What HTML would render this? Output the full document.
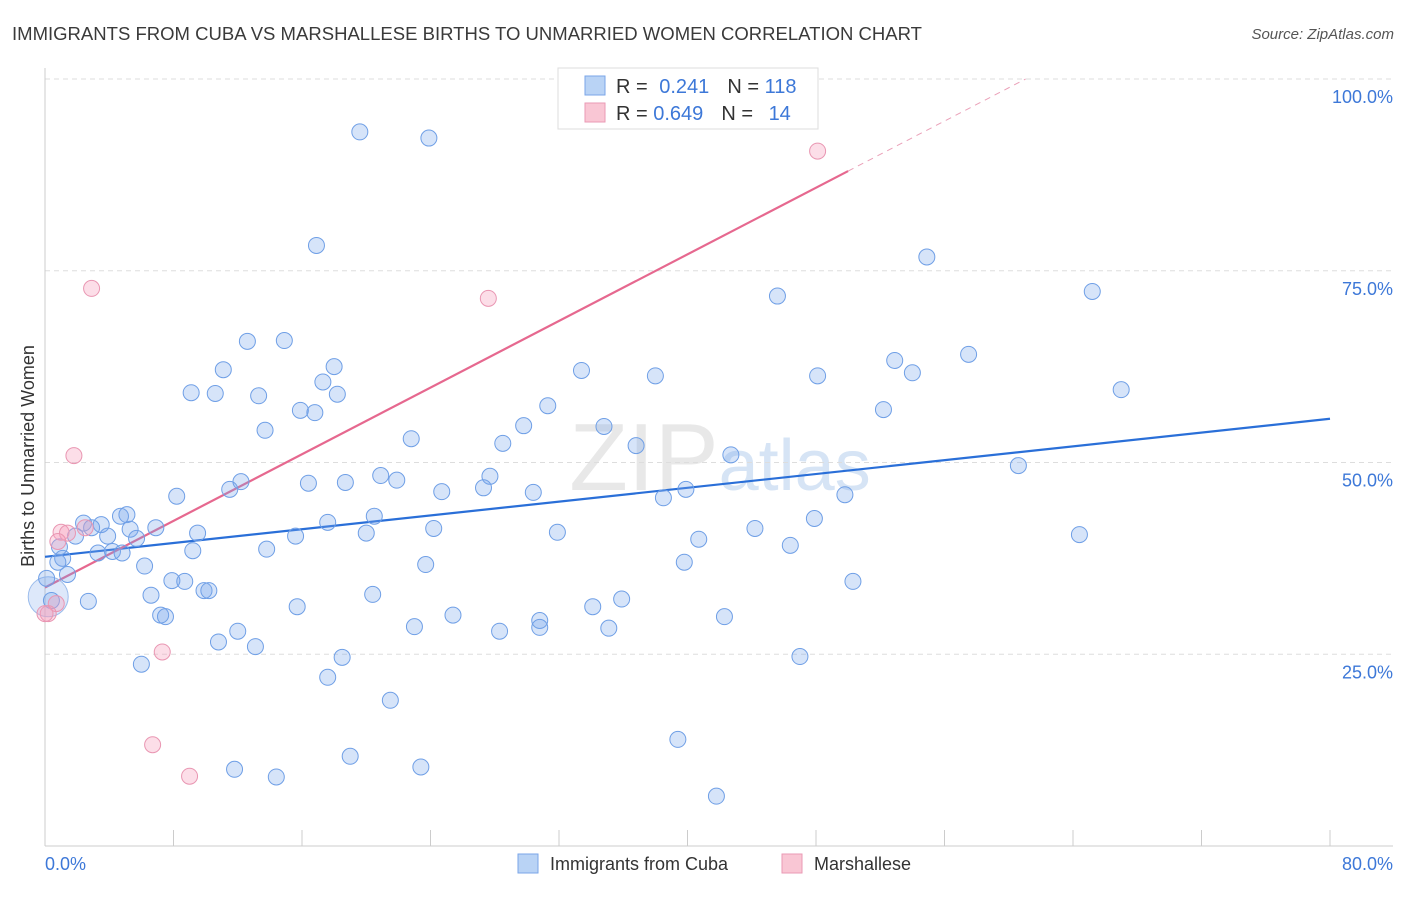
<!DOCTYPE html>
<html><head><meta charset="utf-8"><style>
body{margin:0;background:#fff;font-family:"Liberation Sans",sans-serif;}
svg text{font-family:"Liberation Sans",sans-serif;}
</style></head><body>
<svg id="chart" width="1406" height="892" xmlns="http://www.w3.org/2000/svg">
<text x="12" y="40" font-size="18" fill="#3a3a3a" textLength="910" lengthAdjust="spacingAndGlyphs">IMMIGRANTS FROM CUBA VS MARSHALLESE BIRTHS TO UNMARRIED WOMEN CORRELATION CHART</text>
<text x="1394" y="39" font-size="15" fill="#555" text-anchor="end" font-style="italic">Source: ZipAtlas.com</text>
<text x="720" y="490" font-size="96" fill="#e8e8e8" text-anchor="middle" font-family="Liberation Serif">ZIP<tspan fill="#d6e4f5" font-family="Liberation Sans" font-size="72">atlas</tspan></text>
<g id="grid"></g>
<g id="axes"></g>
<g id="trend"></g>
<g id="pts"></g>
<text transform="translate(34,456) rotate(-90)" font-size="18" fill="#333" text-anchor="middle">Births to Unmarried Women</text>
<text x="45" y="870" font-size="18" fill="#3d78d8">0.0%</text>
<text x="1393" y="870" font-size="18" fill="#3d78d8" text-anchor="end">80.0%</text>
<g>
<rect x="558" y="68" width="260" height="61" fill="#fff" stroke="#ddd"/>
<rect x="585" y="76" width="20" height="19" fill="#b9d3f5" stroke="#7aa6e8"/>
<rect x="585" y="103" width="20" height="19" fill="#f9c6d4" stroke="#ea9ab4"/>
<text x="616" y="93" font-size="20" fill="#333">R = <tspan fill="#3d78d8" dx="6">0.241</tspan><tspan dx="18" fill="#333">N = </tspan><tspan fill="#3d78d8">118</tspan></text>
<text x="616" y="120" font-size="20" fill="#333">R = <tspan fill="#3d78d8">0.649</tspan><tspan dx="18" fill="#333">N = </tspan><tspan fill="#3d78d8" dx="10">14</tspan></text>
</g>
<g>
<rect x="518" y="854" width="20" height="19" fill="#b9d3f5" stroke="#7aa6e8"/>
<text x="550" y="870" font-size="18" fill="#333">Immigrants from Cuba</text>
<rect x="782" y="854" width="20" height="19" fill="#f9c6d4" stroke="#ea9ab4"/>
<text x="814" y="870" font-size="18" fill="#333">Marshallese</text>
</g>
</svg>
<script>
const yTicks=[25,50,75,100];
const yTickLabels=["25.0%","50.0%","75.0%","100.0%"];
const xTicks=[0,8,16,24,32,40,48,56,64,72,80];
const cubaX=[19.6,23.9,16.9,54.9,45.6,65.2,12.6,14.9,11.1,18.0,17.3,9.1,10.6,13.3,18.2,15.9,16.8,13.7,33.4,38.0,48.1,52.9,54.0,57.5,67.0,52.2,31.3,29.8,22.8,34.8,36.8,28.5,42.7,60.6,12.2,11.5,16.4,18.7,20.9,21.9,27.7,27.3,24.7,30.4,38.5,39.9,49.8,8.2,4.7,5.1,6.9,5.3,3.5,2.4,2.9,1.9,3.9,5.7,1.1,0.8,3.3,4.2,4.8,1.4,0.1,0.4,2.7,9.5,13.8,15.6,17.6,20.0,20.5,24.2,31.9,40.7,44.2,47.9,64.4,46.4,9.2,6.2,23.7,39.8,50.3,7.9,8.7,9.9,10.2,6.6,7.2,7.5,15.7,20.4,34.1,35.9,25.4,30.8,30.8,42.3,23.0,28.3,35.1,12.0,10.8,13.1,6.0,18.5,47.0,17.6,21.5,39.4,19.0,11.8,23.4,14.4,41.8,0.9];
const cubaY=[93.1,92.3,78.3,76.8,71.7,72.3,65.8,65.9,62.1,62.5,60.5,59.1,59.0,58.7,58.9,56.8,56.5,54.2,62.0,61.3,61.3,63.3,61.7,64.1,59.5,56.9,57.4,54.8,53.1,54.7,52.2,52.5,51.0,49.6,47.5,46.5,47.3,47.4,48.3,47.7,48.2,46.7,46.2,46.1,45.4,46.5,45.8,45.6,43.0,43.2,41.5,41.3,41.9,42.1,41.5,40.4,40.4,40.1,37.5,37.0,38.2,38.4,38.2,35.4,34.9,32.0,31.9,40.8,38.7,40.4,42.2,40.8,43.0,41.4,40.9,40.0,41.4,42.7,40.6,39.2,38.5,36.5,36.7,37.0,34.5,34.6,34.5,33.3,33.3,32.7,30.1,29.9,31.2,32.8,31.2,32.2,30.1,29.4,28.5,29.9,28.6,28.0,28.4,28.0,26.6,26.0,23.7,24.6,24.7,22.0,19.0,13.9,11.7,10.0,10.3,9.0,6.5,39.0];
const marshX=[2.9,27.6,48.1,1.8,1.0,1.4,0.8,2.5,0.7,0.2,7.3,6.7,9.0,0.0];
const marshY=[72.7,71.4,90.6,50.9,40.9,40.8,39.7,41.5,31.6,30.3,25.3,13.2,9.1,30.3];
const cubaTrend=[37.7,55.7];
const marshTrend=[33.7,88.0];
const X0=45,X1=1330,Y0=846,Y100=79;
const sx=v=>X0+(X1-X0)*v/80;
const sy=v=>Y0-(Y0-Y100)*v/100;
const NS="http://www.w3.org/2000/svg";
function mk(tag,attrs,parent){const e=document.createElementNS(NS,tag);for(const k in attrs)e.setAttribute(k,attrs[k]);parent.appendChild(e);return e;}
const grid=document.getElementById('grid'),axes=document.getElementById('axes'),trend=document.getElementById('trend'),pts=document.getElementById('pts');
yTicks.forEach((t,i)=>{
 const l=mk('line',{x1:X0,x2:1393,y1:sy(t),y2:sy(t),stroke:'#ddd','stroke-dasharray':'5,4'},grid);
 
 
 const tx=mk('text',{x:1393,y:sy(t)+24,'font-size':18,fill:'#3d78d8','text-anchor':'end'},grid);
 tx.textContent=yTickLabels[i];
 
 
});
const ya=mk('line',{x1:X0,x2:X0,y1:68,y2:Y0,stroke:'#ccc'},axes);


const xa=mk('line',{x1:X0,x2:1393,y1:Y0,y2:Y0,stroke:'#ccc'},axes);


xTicks.forEach(t=>{
 const l=mk('line',{x1:sx(t),x2:sx(t),y1:830,y2:Y0,stroke:'#ccc'},axes);
 
 
});
const bl=mk('line',{x1:sx(0),y1:sy(cubaTrend[0]),x2:sx(80),y2:sy(cubaTrend[1]),stroke:'#2a6fd8','stroke-width':2.2},trend);


const slope=(marshTrend[1]-marshTrend[0])/50;
const pl=mk('line',{x1:sx(0),y1:sy(marshTrend[0]),x2:sx(50),y2:sy(marshTrend[1]),stroke:'#e6688f','stroke-width':2.2},trend);


const xe=(100-marshTrend[0])/slope;
const pd=mk('line',{x1:sx(50),y1:sy(marshTrend[1]),x2:sx(xe),y2:sy(100),stroke:'#eaa0b8','stroke-width':1,'stroke-dasharray':'6,5'},trend);


const big1=mk('circle',{cx:sx(0.2),cy:sy(32.5),r:20,fill:'rgba(120,165,235,0.25)',stroke:'#9bbcec'},pts);


cubaX.forEach((x,i)=>{
 const c=mk('circle',{cx:sx(x),cy:sy(cubaY[i]),r:8,fill:'rgba(120,165,235,0.3)',stroke:'#6f9fe6','stroke-width':1},pts);
 
 
});
marshX.forEach((x,i)=>{
 const c=mk('circle',{cx:sx(x),cy:sy(marshY[i]),r:8,fill:'rgba(245,160,190,0.35)',stroke:'#e996b2','stroke-width':1},pts);
 
 
});
</script>
</body></html>
